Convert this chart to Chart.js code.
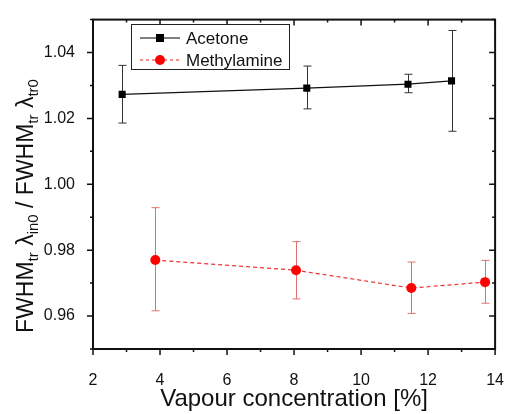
<!DOCTYPE html>
<html>
<head>
<meta charset="utf-8">
<script src="https://cdn.jsdelivr.net/npm/chart.js@4/dist/chart.umd.min.js"></script>
<style>
  html, body { margin: 0; padding: 0; background: #fff; }
  #wrap { width: 518px; height: 414px; }
</style>
</head>
<body>
<div id="wrap"><canvas id="myChart" width="518" height="414"></canvas></div>
<script>
// data
const acetoneX = [2.87, 8.38, 11.40, 12.70];
const acetoneY = [1.0273, 1.0292, 1.0304, 1.0314];
const acetoneLow = [1.0186, 1.0229, 1.0278, 1.0161];
const acetoneHigh = [1.0361, 1.0359, 1.0334, 1.0467];

const methylX = [3.86, 8.06, 11.50, 13.70];
const methylY = [0.9770, 0.9739, 0.9685, 0.9703];
const methylLow = [0.9616, 0.9652, 0.9608, 0.9639];
const methylHigh = [0.9929, 0.9826, 0.9764, 0.9769];

const xTickLabels = ['2', '4', '6', '8', '10', '12', '14'];
const yTickLabels = ['0.96', '0.98', '1.00', '1.02', '1.04'];

const FONT = '"Liberation Sans", Arial, sans-serif';

const ctx = document.getElementById('myChart').getContext('2d');

function pts(xs, ys) {
  return xs.map((x, i) => ({ x: x, y: ys[i] }));
}

// error bars, frame, ticks, legend, y title
const extras = {
  id: 'extras',
  beforeDatasetsDraw(chart) {
    const c = chart.ctx;
    const xs = chart.scales.x, ys = chart.scales.y;
    const bars = [
      [acetoneX, acetoneLow, acetoneHigh, '#333333'],
      [methylX, methylLow, methylHigh, '#e07070']
    ];
    c.save();
    bars.forEach(b => {
      c.strokeStyle = b[3];
      c.lineWidth = 1;
      b[0].forEach((x, i) => {
        const px = Math.round(xs.getPixelForValue(x)) + 0.5;
        const lo = ys.getPixelForValue(b[1][i]);
        const hi = ys.getPixelForValue(b[2][i]);
        c.beginPath();
        c.moveTo(px, lo); c.lineTo(px, hi);
        c.moveTo(px - 4, lo); c.lineTo(px + 4, lo);
        c.moveTo(px - 4, hi); c.lineTo(px + 4, hi);
        c.stroke();
      });
    });
    c.restore();
  },
  afterDraw(chart) {
    const c = chart.ctx;
    const a = chart.chartArea;
    const xs = chart.scales.x, ys = chart.scales.y;
    c.save();
    // frame
    c.strokeStyle = '#111';
    c.lineWidth = 2;
    c.strokeRect(a.left, a.top, a.right - a.left, a.bottom - a.top);
    // ticks
    c.lineWidth = 1.5;
    c.beginPath();
    for (let v = 2; v <= 14; v += 1) {
      const px = xs.getPixelForValue(v);
      const len = v % 2 === 0 ? 6 : 3;
      c.moveTo(px, a.bottom); c.lineTo(px, a.bottom + len);
      c.moveTo(px, a.top); c.lineTo(px, a.top + len);
    }
    for (let k = 0; k <= 10; k++) {
      const v = 0.95 + k * 0.01;
      const py = ys.getPixelForValue(v);
      const len = k % 2 === 1 ? 6 : 3;
      c.moveTo(a.left, py); c.lineTo(a.left - len, py);
      c.moveTo(a.right, py); c.lineTo(a.right - len, py);
    }
    c.stroke();

    // legend
    const lx = 131, ly = 24, lw = 158, lh = 45;
    c.fillStyle = '#fff';
    c.fillRect(lx, ly, lw, lh);
    c.strokeStyle = '#222';
    c.lineWidth = 1;
    c.strokeRect(lx + 0.5, ly + 0.5, lw, lh);
    const rows = [
      { label: chart.data.datasets[0].label, y: 38, color: '#000', dash: [], marker: 'rect' },
      { label: chart.data.datasets[1].label, y: 60, color: '#ee2222', dash: [3, 3], marker: 'circle' }
    ];
    rows.forEach(r => {
      c.strokeStyle = r.color;
      c.setLineDash(r.dash);
      c.beginPath();
      c.moveTo(140, r.y); c.lineTo(180, r.y);
      c.stroke();
      c.setLineDash([]);
      c.fillStyle = r.marker === 'rect' ? '#000' : '#ff0000';
      if (r.marker === 'rect') {
        c.fillRect(156, r.y - 4, 8, 8);
      } else {
        c.beginPath(); c.arc(160, r.y, 5, 0, Math.PI * 2); c.fill();
      }
      c.fillStyle = '#111';
      c.font = '17px ' + FONT;
      c.textBaseline = 'middle';
      c.textAlign = 'left';
      c.fillText(r.label, 186, r.y + 1);
    });

    // y axis title with subscripts
    const parts = [
      ['FWHM', 0], ['tr', 1], [' \u03BB', 0], ['in0', 1],
      [' / FWHM', 0], ['tr', 1], [' \u03BB', 0], ['tr0', 1]
    ];
    const big = '23px ' + FONT, small = '15px ' + FONT;
    let total = 0;
    parts.forEach(p => { c.font = p[1] ? small : big; total += c.measureText(p[0]).width; });
    c.translate(33, 206);
    c.rotate(-Math.PI / 2);
    c.fillStyle = '#111';
    c.textBaseline = 'alphabetic';
    c.textAlign = 'left';
    let cx = -total / 2;
    parts.forEach(p => {
      c.font = p[1] ? small : big;
      c.fillText(p[0], cx, p[1] ? 5 : 0);
      cx += c.measureText(p[0]).width;
    });
    c.restore();
  }
};

const data = {
  datasets: [{
    label: 'Acetone',
    data: pts(acetoneX, acetoneY),
    borderColor: '#111',
    backgroundColor: '#000',
    borderWidth: 1.2,
    pointStyle: 'rect',
    pointRadius: 5,
    pointBorderWidth: 0,
    showLine: true,
    tension: 0
  }, {
    label: 'Methylamine',
    data: pts(methylX, methylY),
    borderColor: '#ee3333',
    backgroundColor: '#ff0000',
    borderWidth: 1.2,
    borderDash: [4, 3],
    pointStyle: 'circle',
    pointRadius: 5,
    pointBorderWidth: 0,
    showLine: true,
    tension: 0
  }]
};

const config = {
  type: 'scatter',
  data: data,
  options: {
    responsive: false,
    animation: false,
    layout: { padding: { left: 0, top: 13, right: 7, bottom: 0 } },
    plugins: {
      legend: { display: false },
      tooltip: { enabled: false }
    },
    scales: {
      x: {
        type: 'linear',
        min: 2,
        max: 14,
        afterFit: s => { s.height = 65; },
        afterBuildTicks: s => { s.ticks = xTickLabels.map(t => ({ value: Number(t) })); },
        grid: { display: false },
        border: { display: false },
        ticks: {
          color: '#111',
          font: { family: FONT, size: 16 },
          padding: 14,
          maxRotation: 0,
          callback: v => String(v)
        },
        title: {
          display: true,
          text: 'Vapour concentration [%]',
          color: '#111',
          font: { family: FONT, size: 24 },
          padding: { top: 0, bottom: 0 }
        }
      },
      y: {
        type: 'linear',
        min: 0.95,
        max: 1.05,
        afterFit: s => { s.width = 93; },
        afterBuildTicks: s => { s.ticks = yTickLabels.map(t => ({ value: Number(t) })); },
        grid: { display: false },
        border: { display: false },
        ticks: {
          color: '#111',
          font: { family: FONT, size: 16 },
          padding: 10,
          callback: v => v.toFixed(2)
        }
      }
    }
  },
  plugins: [extras]
};

new Chart(ctx, config);
</script>
</body>
</html>
